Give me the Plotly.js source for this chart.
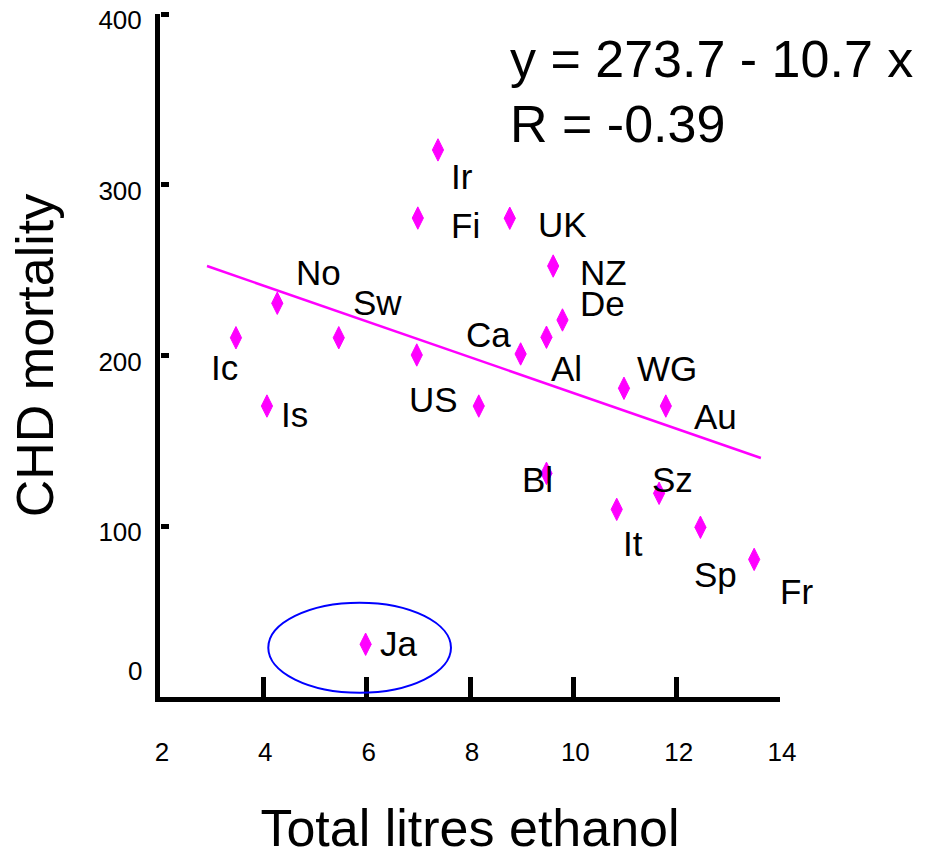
<!DOCTYPE html>
<html><head><meta charset="utf-8">
<script src="https://cdn.plot.ly/plotly-3.0.1.min.js"></script>
<style>html,body{margin:0;padding:0;background:#fff;}#chart{width:932px;height:857px;}</style>
</head><body><div id="chart"></div>
<script>
// ---- data ----
const countries = ['Ir','Fi','UK','NZ','De','Al','Ca','WG','Au','Bl','It','Sz','Sp','Fr','Ja','Ic','No','Is','Sw','','US'];
const litres    = [7.38, 6.99, 8.77, 9.61, 9.79, 9.48, 8.98, 10.98, 11.79, 9.48, 10.84, 11.66, 12.46, 13.50, 5.98, 3.47, 4.27, 4.07, 5.46, 6.97, 8.17];
const chd       = [320.4, 280.5, 280.4, 252.4, 220.8, 210.7, 200.9, 180.8, 170.4, 131.0, 109.9, 119.3, 99.4, 80.6, 30.9, 210.4, 230.6, 170.4, 210.4, 200.3, 170.4];
const trendX = [2.91, 13.63];
const trendY = [252.4, 140.0];
const xTickVals = [2, 4, 6, 8, 10, 12, 14];
const yTickVals = [100, 200, 300, 400];
const zeroLabel = '0';
const equationText = 'y = 273.7 - 10.7 x';
const rText = 'R = -0.39';
const xTitle = 'Total litres ethanol';
const yTitle = 'CHD mortality';

// label offsets from each point in pixels (dx right, dy down) - styling only
const labelOffsets = [[24,27],[48,7],[52.5,6.7],[50,6.5],[40,-16],[20,31],[-32,-19.5],[43,-20],[49.5,10.5],[-9,6],[16,34],[13,-14],[15,47],[42,32],[33,-1],[-11,30],[41,-31],[28,8.5],[38.5,-35],[0,0],[-45,-6.5]];

const FONT = 'Arial, "Liberation Sans", sans-serif';
const MAG = '#FF00FF';

const traces = [
  {x: trendX, y: trendY, type: 'scatter', mode: 'lines', line: {color: MAG, width: 2.5}, hoverinfo: 'skip', cliponaxis: false},
  {x: litres, y: chd, type: 'scatter', mode: 'markers', text: countries,
   marker: {symbol: 'diamond-tall', size: 16, color: MAG, line: {color: MAG, width: 1}}, cliponaxis: false},
  // empty trace so the tick-only overlay axis is drawn
  {x: [], y: [], type: 'scatter', mode: 'markers', yaxis: 'y2', hoverinfo: 'skip'}
];

const annotations = countries.map((c, i) => ({
  x: litres[i], y: chd[i], xref: 'x', yref: 'y', text: c, showarrow: false,
  xanchor: 'center', yanchor: 'middle', xshift: labelOffsets[i][0], yshift: -labelOffsets[i][1],
  font: {family: FONT, size: 35, color: '#000'}
})).filter(a => a.text !== '');

annotations.push({x: 2, y: 15.2, xref: 'x', yref: 'y', text: zeroLabel, showarrow: false,
  xanchor: 'right', yanchor: 'middle', xshift: -16, font: {family: FONT, size: 26, color: '#000'}});
annotations.push({x: 8.73, y: 373.6, xref: 'x', yref: 'y', text: equationText, showarrow: false,
  xanchor: 'left', yanchor: 'middle', font: {family: FONT, size: 52, color: '#000'}});
annotations.push({x: 8.73, y: 335.6, xref: 'x', yref: 'y', text: rText, showarrow: false,
  xanchor: 'left', yanchor: 'middle', font: {family: FONT, size: 52, color: '#000'}});

const layout = {
  width: 932, height: 857,
  margin: {l: 160, r: 152, t: 14, b: 160},
  paper_bgcolor: '#fff', plot_bgcolor: '#fff',
  showlegend: false, hovermode: false,
  font: {family: FONT, color: '#000'},
  xaxis: {
    range: [2, 14], showline: true, linewidth: 5, linecolor: '#000',
    ticks: 'inside', ticklen: 20, tickwidth: 5, tickcolor: '#000',
    tickmode: 'array', tickvals: xTickVals, ticktext: xTickVals.map(String),
    tickfont: {family: FONT, size: 26, color: '#000'},
    ticklabelstandoff: 28, ticklabelshift: 2,
    showgrid: false, zeroline: false,
    title: {text: xTitle, font: {family: FONT, size: 52, color: '#000'}, standoff: 49}
  },
  yaxis: {
    range: [0, 400], showline: true, linewidth: 5, linecolor: '#000',
    ticks: '',
    tickmode: 'array', tickvals: yTickVals, ticktext: yTickVals.map(String),
    tickfont: {family: FONT, size: 26, color: '#000'},
    ticklabelstandoff: 8, ticklabelshift: 6, ticklabeloverflow: 'allow',
    showgrid: false, zeroline: false,
    title: {text: yTitle, font: {family: FONT, size: 52, color: '#000'}, standoff: 30}
  },
  yaxis2: {
    range: [0, 400], overlaying: 'y', side: 'right', anchor: 'free', position: 0,
    showline: false, ticks: 'outside', ticklen: 8, tickwidth: 5, tickcolor: '#000',
    tickmode: 'array', tickvals: yTickVals, showticklabels: false,
    showgrid: false, zeroline: false
  },
  shapes: [{type: 'circle', xref: 'x', yref: 'y', x0: 4.096, x1: 7.632, y0: 2.5, y1: 55.2,
            line: {color: '#0000FF', width: 2}}],
  annotations: annotations
};

Plotly.newPlot('chart', traces, layout, {displayModeBar: false, staticPlot: true});
</script>
</body></html>
